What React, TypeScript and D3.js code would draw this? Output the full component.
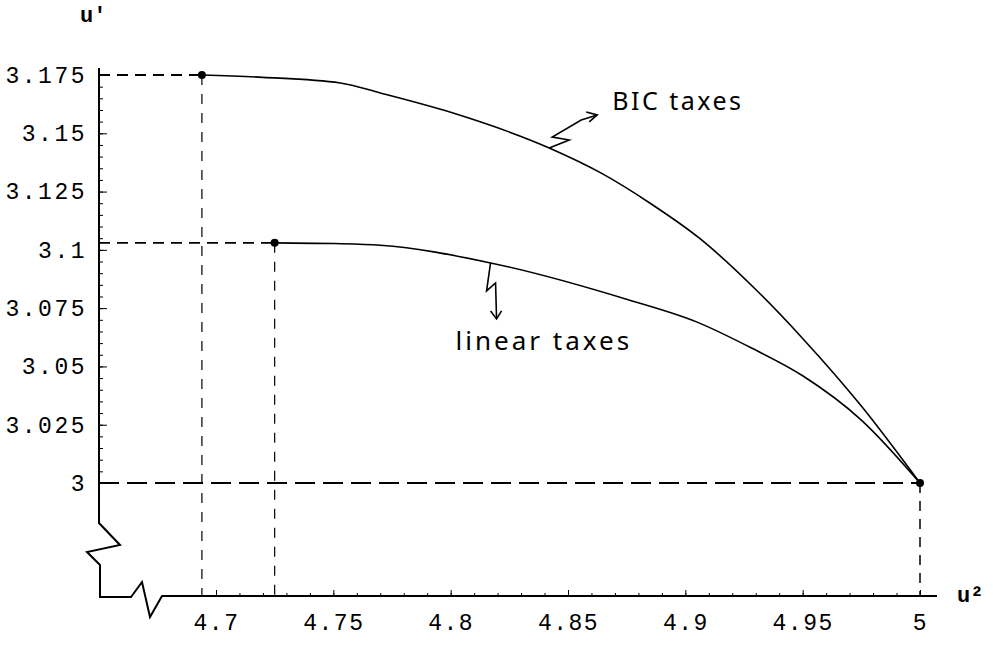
import React, { useEffect, useRef } from "react";
import * as d3 from "d3";

// BIC taxes curve (u2, u1)
const bicU2 = [4.694, 4.72, 4.753, 4.77, 4.8, 4.842, 4.864, 4.885, 4.906, 4.93, 4.95, 4.975, 5.0];
const bicU1 = [3.175, 3.174, 3.1716, 3.1673, 3.159, 3.1437, 3.133, 3.12, 3.105, 3.083, 3.062, 3.033, 3.0];

// linear taxes curve
const linU2 = [4.725, 4.75, 4.77, 4.817, 4.876, 4.905, 4.928, 4.95, 4.975, 5.0];
const linU1 = [3.103, 3.1027, 3.102, 3.0944, 3.0785, 3.069, 3.058, 3.046, 3.027, 3.0];

const xTicks = [4.7, 4.75, 4.8, 4.85, 4.9, 4.95, 5];
const yTicks = [3, 3.025, 3.05, 3.075, 3.1, 3.125, 3.15, 3.175];

const W = 993;
const H = 652;

export default function App() {
  const ref = useRef<SVGSVGElement>(null);

  useEffect(() => {
    const svg = d3.select(ref.current);
    svg.selectAll("*").remove();

    const x = d3.scaleLinear().domain([4.7, 5]).range([216, 920]);
    const y = d3.scaleLinear().domain([3, 3.175]).range([483, 75]);

    const axisX = 99; // y-axis position
    const axisY = 597; // x-axis position
    const mono = "'Liberation Mono', 'DejaVu Sans Mono', monospace";
    const hand = "'Noto Sans', 'DejaVu Sans', sans-serif";

    // axes with breaks
    const yTop = y(3.178);
    svg
      .append("path")
      .attr(
        "d",
        `M${axisX},${yTop} L${axisX},523 L${axisX + 21},545 L${axisX - 12},552 L${axisX + 1},565 L${axisX + 1},${axisY}` +
          ` L131,${axisY} L142,582 L150,617 L162,${axisY - 1} L937,${axisY - 1}`
      )
      .attr("fill", "none")
      .attr("stroke", "#000")
      .attr("stroke-width", 2);

    // y axis ticks
    const yMinor = d3.range(3, 3.1751, 0.005);
    svg
      .append("g")
      .attr("transform", `translate(${axisX},0)`)
      .call(d3.axisLeft(y).tickValues(yMinor).tickSizeInner(-4).tickSizeOuter(0).tickFormat(() => ""))
      .call(g => g.select(".domain").remove());
    svg
      .append("g")
      .attr("transform", `translate(${axisX},0)`)
      .call(
        d3
          .axisLeft(y)
          .tickValues(yTicks)
          .tickSizeInner(-8)
          .tickSizeOuter(0)
          .tickPadding(12)
          .tickFormat(d => d3.format("")(+d))
      )
      .call(g => g.select(".domain").remove())
      .call(g =>
        g.selectAll("text").attr("font-family", mono).attr("font-size", 23).attr("letter-spacing", 2.5).attr("fill", "#000")
      );

    // x axis ticks
    const xMinor = d3.range(4.7, 5.0001, 0.01);
    svg
      .append("g")
      .attr("transform", `translate(0,${axisY - 1})`)
      .call(d3.axisBottom(x).tickValues(xMinor).tickSizeInner(-3).tickSizeOuter(0).tickFormat(() => ""))
      .call(g => g.select(".domain").remove());
    svg
      .append("g")
      .attr("transform", `translate(0,${axisY - 1})`)
      .call(
        d3
          .axisBottom(x)
          .tickValues(xTicks)
          .tickSizeInner(-6)
          .tickSizeOuter(0)
          .tickPadding(18)
          .tickFormat(d => d3.format("")(+d))
      )
      .call(g => g.select(".domain").remove())
      .call(g =>
        g.selectAll("text").attr("font-family", mono).attr("font-size", 23).attr("letter-spacing", 1.5).attr("fill", "#000")
      );

    // axis labels
    svg
      .append("text")
      .attr("x", 80)
      .attr("y", 22)
      .attr("font-family", mono)
      .attr("font-size", 22)
      .attr("font-weight", "bold")
      .text("u'");
    svg
      .append("text")
      .attr("x", 957)
      .attr("y", 602)
      .attr("font-family", mono)
      .attr("font-size", 22)
      .attr("font-weight", "bold")
      .text("u²");

    // dashed guide lines
    const guides = svg.append("g").attr("fill", "none").attr("stroke", "#000");
    const bic0 = { u2: bicU2[0], u1: bicU1[0] };
    const lin0 = { u2: linU2[0], u1: linU1[0] };
    const end = { u2: bicU2[bicU2.length - 1], u1: bicU1[bicU1.length - 1] };

    [bic0, lin0].forEach(p => {
      guides
        .append("line")
        .attr("x1", axisX)
        .attr("x2", x(p.u2))
        .attr("y1", y(p.u1))
        .attr("y2", y(p.u1))
        .attr("stroke-width", 1.8)
        .attr("stroke-dasharray", "11,7");
      guides
        .append("line")
        .attr("x1", x(p.u2))
        .attr("x2", x(p.u2))
        .attr("y1", y(p.u1))
        .attr("y2", axisY)
        .attr("stroke-width", 1.2)
        .attr("stroke-dasharray", "10,9");
    });
    guides
      .append("line")
      .attr("x1", axisX)
      .attr("x2", x(end.u2))
      .attr("y1", y(end.u1))
      .attr("y2", y(end.u1))
      .attr("stroke-width", 2)
      .attr("stroke-dasharray", "20,8");
    guides
      .append("line")
      .attr("x1", x(end.u2))
      .attr("x2", x(end.u2))
      .attr("y1", y(end.u1))
      .attr("y2", axisY)
      .attr("stroke-width", 1.5)
      .attr("stroke-dasharray", "10,8");

    // curves
    const line = d3
      .line<[number, number]>()
      .x(d => x(d[0]))
      .y(d => y(d[1]))
      .curve(d3.curveMonotoneX);

    svg
      .append("path")
      .datum(bicU2.map((u, i) => [u, bicU1[i]] as [number, number]))
      .attr("fill", "none")
      .attr("stroke", "#000")
      .attr("stroke-width", 1.6)
      .attr("d", line);
    svg
      .append("path")
      .datum(linU2.map((u, i) => [u, linU1[i]] as [number, number]))
      .attr("fill", "none")
      .attr("stroke", "#000")
      .attr("stroke-width", 1.6)
      .attr("d", line);

    // points
    svg
      .selectAll("circle.pt")
      .data([bic0, lin0, end])
      .join("circle")
      .attr("class", "pt")
      .attr("cx", d => x(d.u2))
      .attr("cy", d => y(d.u1))
      .attr("r", 4)
      .attr("fill", "#000");

    // hand annotations
    const ann = svg.append("g").attr("fill", "none").attr("stroke", "#000").attr("stroke-width", 1.6);
    const bx = x(bicU2[5]);
    const by = y(bicU1[5]);
    ann
      .append("path")
      .attr("d", `M${bx},${by} L${bx + 20},${by - 8} L${bx + 3},${by - 11} L${bx + 32},${by - 28} L${bx + 48},${by - 33}`);
    ann.append("path").attr("d", `M${bx + 37},${by - 36} L${bx + 48},${by - 33} L${bx + 40},${by - 26}`);
    svg
      .append("text")
      .attr("x", bx + 63)
      .attr("y", by - 38)
      .attr("font-family", hand)
      .attr("font-size", 25)
      .attr("letter-spacing", 2.5)
      .text("BIC taxes");

    const lx = x(linU2[3]);
    const ly = y(linU1[3]);
    ann
      .append("path")
      .attr("d", `M${lx},${ly} L${lx - 4},${ly + 28} L${lx + 5},${ly + 20} L${lx + 6},${ly + 56}`);
    ann.append("path").attr("d", `M${lx},${ly + 48} L${lx + 6},${ly + 56} L${lx + 11},${ly + 48}`);
    svg
      .append("text")
      .attr("x", lx - 35)
      .attr("y", ly + 87)
      .attr("font-family", hand)
      .attr("font-size", 26)
      .attr("letter-spacing", 3)
      .text("linear taxes");
  }, []);

  return (
    <svg
      ref={ref}
      width={W}
      height={H}
      viewBox={`0 0 ${W} ${H}`}
      style={{ position: "absolute", left: 0, top: 0, background: "#fff" }}
    />
  );
}
